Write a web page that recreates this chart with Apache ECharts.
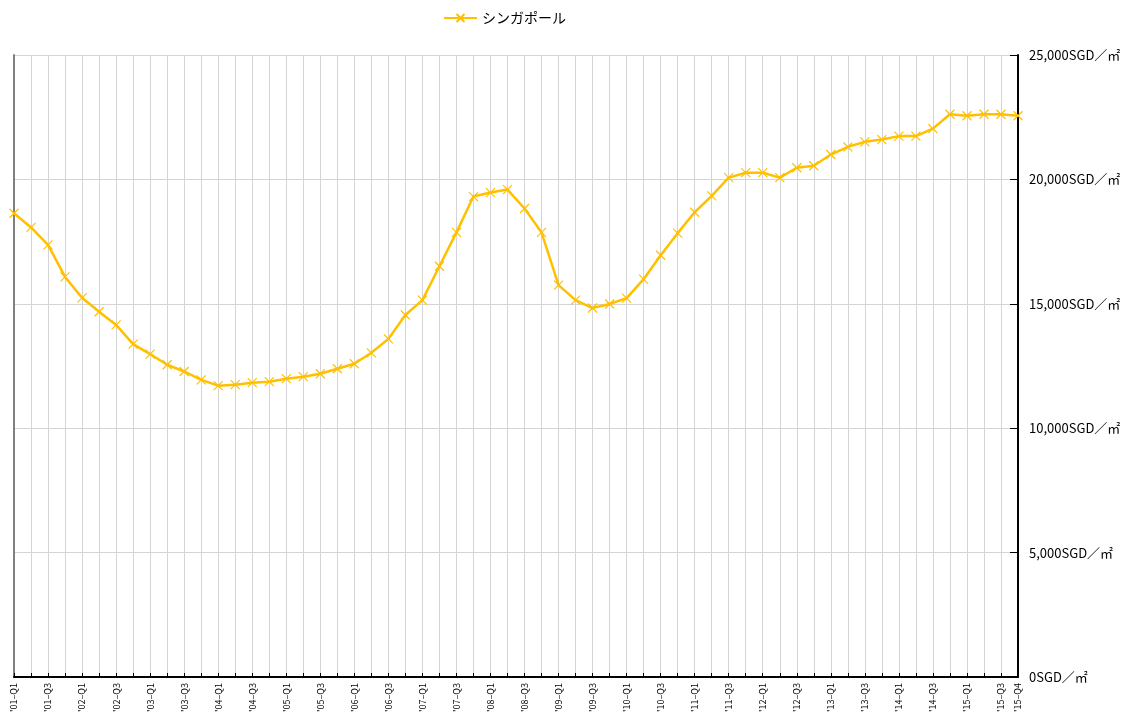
<!DOCTYPE html>
<html>
<head>
<meta charset="utf-8">
<title>シンガポール</title>
<script src="https://cdn.jsdelivr.net/npm/echarts@6/dist/echarts.min.js"></script>
<style>
  html, body { margin: 0; padding: 0; background: #fff; }
  #chart { width: 1129px; height: 716px; }
</style>
</head>
<body>
<div id="chart"></div>
<script>
// 四半期ラベル
const years = ['01', '02', '03', '04', '05', '06', '07', '08', '09', '10', '11', '12', '13', '14', '15']
const quarters = []
years.forEach(y => {
  for (let q = 1; q <= 4; q++) quarters.push("'" + y + '–Q' + q)
})

// 価格 (SGD/㎡)
const singapore = [
  18640, 18070, 17370, 16080, 15240, 14680, 14150, 13380,
  12980, 12550, 12280, 11940, 11710, 11750, 11830, 11870,
  11990, 12070, 12190, 12390, 12590, 13030, 13590, 14550,
  15150, 16510, 17870, 19310, 19470, 19590, 18830, 17870,
  15750, 15150, 14830, 14990, 15230, 15990, 16950, 17840,
  18680, 19340, 20070, 20270, 20270, 20070, 20470, 20550,
  21000, 21310, 21510, 21600, 21740, 21740, 22040, 22620,
  22560, 22620, 22620, 22560
]

const yTicks = [0, 5000, 10000, 15000, 20000, 25000]

const chart = echarts.init(document.getElementById('chart'))
const crossPath = 'path://M0,0L10,10M10,0L0,10'

const option = {
  animation: false,
  textStyle: { fontFamily: '"Noto Sans CJK JP", sans-serif' },
  legend: {
    top: 6,
    left: 438,
    itemWidth: 33,
    itemHeight: 10,
    itemGap: 10,
    textStyle: { fontSize: 14, color: '#000' },
    data: ['シンガポール']
  },
  grid: {
    left: 14,
    right: 111,
    top: 55,
    bottom: 39
  },
  xAxis: {
    type: 'category',
    boundaryGap: false,
    data: quarters,
    axisLine: { lineStyle: { color: '#000', width: 2 } },
    axisTick: { inside: true, length: 4, interval: 0, lineStyle: { color: '#000' } },
    axisLabel: {
      rotate: 90,
      fontSize: 9,
      color: '#000',
      margin: 6,
      interval: (i) => i % 2 === 0 || i === quarters.length - 1
    },
    splitLine: { show: true, interval: 0, lineStyle: { color: '#d4d4d4', width: 1 } }
  },
  yAxis: [
    {
      type: 'value',
      position: 'right',
      min: yTicks[0],
      max: yTicks[yTicks.length - 1],
      interval: 5000,
      axisLine: { show: true, lineStyle: { color: '#000', width: 2 } },
      axisTick: { show: true, inside: true, length: 8, lineStyle: { color: '#000' } },
      axisLabel: {
        color: '#000',
        fontSize: 13,
        margin: 11,
        formatter: v => v.toLocaleString('en-US') + 'SGD／㎡'
      },
      splitLine: { lineStyle: { color: '#d4d4d4', width: 1 } }
    },
    {
      type: 'value',
      position: 'left',
      min: yTicks[0],
      max: yTicks[yTicks.length - 1],
      interval: 5000,
      axisLine: { show: true, lineStyle: { color: '#808080', width: 2 } },
      axisTick: { show: false },
      axisLabel: { show: false },
      splitLine: { show: false }
    }
  ],
  series: [
    {
      name: 'シンガポール',
      type: 'line',
      data: singapore,
      symbol: crossPath,
      symbolSize: 9,
      lineStyle: { color: '#FFC000', width: 2.5 },
      itemStyle: { color: '#FFC000', borderColor: '#FFC000', borderWidth: 1.2 }
    }
  ]
}

chart.setOption(option)
</script>
</body>
</html>
